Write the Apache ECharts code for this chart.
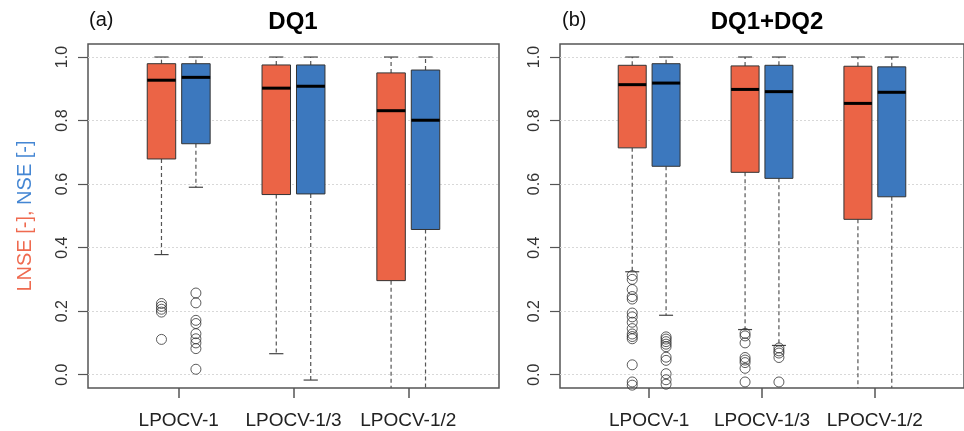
<!DOCTYPE html>
<html>
<head>
<meta charset="utf-8">
<script src="https://cdn.jsdelivr.net/npm/echarts@6/dist/echarts.min.js"></script>
<style>
  html, body { margin: 0; padding: 0; background: #fff; }
  #chart { width: 964px; height: 431px; }
</style>
</head>
<body>
<div id="chart"></div>
<script>
const groups = ['LPOCV-1', 'LPOCV-1/3', 'LPOCV-1/2']
const yTicks = [0, 0.2, 0.4, 0.6, 0.8, 1.0]

// each box: [lower whisker, q1, median, q3, upper whisker]
const dq1Lnse = [
  [0.378, 0.679, 0.927, 0.979, 1.0],
  [0.066, 0.567, 0.902, 0.975, 1.0],
  [-0.2, 0.296, 0.831, 0.950, 1.0]
]
const dq1Nse = [
  [0.590, 0.727, 0.936, 0.979, 1.0],
  [-0.017, 0.569, 0.908, 0.975, 1.0],
  [-0.2, 0.457, 0.801, 0.959, 1.0]
]
const dq12Lnse = [
  [0.324, 0.714, 0.913, 0.974, 1.0],
  [0.142, 0.637, 0.898, 0.972, 1.0],
  [-0.2, 0.489, 0.854, 0.971, 1.0]
]
const dq12Nse = [
  [0.187, 0.656, 0.918, 0.979, 1.0],
  [0.092, 0.618, 0.891, 0.974, 1.0],
  [-0.2, 0.560, 0.889, 0.969, 1.0]
]

// outliers per group
const dq1LnseOut = [[0.224, 0.215, 0.206, 0.197, 0.111], [], []]
const dq1NseOut = [[0.257, 0.226, 0.171, 0.161, 0.129, 0.113, 0.100, 0.082, 0.017], [], []]
const dq12LnseOut = [
  [0.312, 0.300, 0.268, 0.246, 0.238, 0.194, 0.182, 0.165, 0.145, 0.128, 0.120, 0.113, 0.031, -0.023, -0.033],
  [0.130, 0.122, 0.100, 0.054, 0.046, 0.038, 0.020, -0.023],
  []
]
const dq12NseOut = [
  [0.119, 0.112, 0.104, 0.096, 0.088, 0.055, 0.045, 0.003, -0.016, -0.030],
  [0.084, 0.075, 0.068, 0.054, -0.023],
  []
]

const RED = '#EB6446'
const BLUE = '#3C78BE'
const OFFSET = 0.15
const HALF = 0.124
const FONT = 'Liberation Sans, Arial, Helvetica, sans-serif'

function boxData(stats, offset) {
  return stats.map((s, i) => [i + 1 + offset].concat(s))
}

function outData(list, offset) {
  const out = []
  list.forEach((vals, i) => {
    vals.forEach(v => out.push([i + 1 + offset, v]))
  })
  return out
}

function renderBox(params, api) {
  const x = api.value(0)
  const lo = api.coord([x, api.value(1)])
  const q1 = api.coord([x, api.value(2)])
  const md = api.coord([x, api.value(3)])
  const q3 = api.coord([x, api.value(4)])
  const hi = api.coord([x, api.value(5)])
  const hw = api.size([HALF, 0])[0]
  const cw = hw / 2
  const cx = md[0]
  const dash = { stroke: '#555', lineWidth: 1.2, lineDash: [4, 3] }
  const cap = { stroke: '#444', lineWidth: 1.2 }
  return {
    type: 'group',
    children: [
      { type: 'line', shape: { x1: cx, y1: q1[1], x2: cx, y2: lo[1] }, style: dash },
      { type: 'line', shape: { x1: cx, y1: q3[1], x2: cx, y2: hi[1] }, style: dash },
      { type: 'line', shape: { x1: cx - cw, y1: lo[1], x2: cx + cw, y2: lo[1] }, style: cap },
      { type: 'line', shape: { x1: cx - cw, y1: hi[1], x2: cx + cw, y2: hi[1] }, style: cap },
      {
        type: 'rect',
        shape: { x: cx - hw, y: q3[1], width: hw * 2, height: q1[1] - q3[1] },
        style: { fill: api.visual('color'), stroke: '#333', lineWidth: 1 }
      },
      { type: 'line', shape: { x1: cx - hw, y1: md[1], x2: cx + hw, y2: md[1] }, style: { stroke: '#000', lineWidth: 3 } }
    ]
  }
}

function xAxis(idx) {
  return {
    type: 'value',
    gridIndex: idx,
    min: 0.21,
    max: 3.79,
    axisLine: { show: false, onZero: false },
    splitLine: { show: false },
    axisTick: { customValues: [1, 2, 3], length: 10, lineStyle: { color: '#555', width: 1.5 } },
    axisLabel: {
      customValues: [1, 2, 3],
      formatter: v => groups[Math.round(v) - 1],
      fontSize: 19,
      color: '#222',
      fontFamily: FONT,
      margin: 23
    }
  }
}

function yAxis(idx) {
  const ax = {
    type: 'value',
    gridIndex: idx,
    min: -0.042,
    max: 1.041,
    axisLine: { show: false, onZero: false },
    axisTick: { customValues: yTicks, length: 10, lineStyle: { color: '#555', width: 1.2 } },
    axisLabel: {
      customValues: yTicks,
      formatter: v => v.toFixed(1),
      rotate: 90,
      fontSize: 16,
      color: '#333',
      fontFamily: FONT,
      margin: 17
    },
    splitLine: { show: true, lineStyle: { color: '#d8d8d8', type: [2, 2], width: 1 } }
  }
  if (idx === 0) {
    ax.name = '{r|LNSE [-], }{b|NSE [-]}'
    ax.nameLocation = 'middle'
    ax.nameRotate = 90
    ax.nameGap = 53
    ax.nameTextStyle = {
      fontFamily: FONT,
      fontSize: 20,
      rich: {
        r: { color: '#EF6A4F', fontSize: 20, fontFamily: FONT },
        b: { color: '#4486D3', fontSize: 20, fontFamily: FONT }
      }
    }
  }
  return ax
}

function boxSeries(idx, stats, color, offset) {
  return {
    type: 'custom',
    xAxisIndex: idx,
    yAxisIndex: idx,
    clip: true,
    itemStyle: { color: color },
    encode: { x: 0, y: [1, 2, 3, 4, 5] },
    data: boxData(stats, offset),
    renderItem: renderBox
  }
}

function outSeries(idx, list, offset) {
  return {
    type: 'scatter',
    xAxisIndex: idx,
    yAxisIndex: idx,
    symbol: 'circle',
    symbolSize: 10,
    itemStyle: { color: 'rgba(0,0,0,0)', borderColor: '#333', borderWidth: 1 },
    data: outData(list, offset)
  }
}

const chart = echarts.init(document.getElementById('chart'))
chart.setOption({
  animation: false,
  backgroundColor: '#fff',
  grid: [
    { left: 88, right: 465, top: 44, bottom: 43, show: true, borderColor: '#555', borderWidth: 1.5 },
    { left: 560, right: -8, top: 44, bottom: 43, show: true, borderColor: '#555', borderWidth: 1.5 }
  ],
  xAxis: [xAxis(0), xAxis(1)],
  yAxis: [yAxis(0), yAxis(1)],
  graphic: [
    { type: 'text', left: 89, top: 10, style: { text: '(a)', fontSize: 20, fill: '#111', fontFamily: FONT } },
    { type: 'text', x: 293, y: 22, style: { text: 'DQ1', fontSize: 24, fontWeight: 'bold', fill: '#000', fontFamily: FONT, textAlign: 'center', textVerticalAlign: 'middle' } },
    { type: 'text', left: 562, top: 10, style: { text: '(b)', fontSize: 20, fill: '#111', fontFamily: FONT } },
    { type: 'text', x: 767, y: 22, style: { text: 'DQ1+DQ2', fontSize: 24, fontWeight: 'bold', fill: '#000', fontFamily: FONT, textAlign: 'center', textVerticalAlign: 'middle' } }
  ],
  series: [
    boxSeries(0, dq1Lnse, RED, -OFFSET),
    boxSeries(0, dq1Nse, BLUE, OFFSET),
    outSeries(0, dq1LnseOut, -OFFSET),
    outSeries(0, dq1NseOut, OFFSET),
    boxSeries(1, dq12Lnse, RED, -OFFSET),
    boxSeries(1, dq12Nse, BLUE, OFFSET),
    outSeries(1, dq12LnseOut, -OFFSET),
    outSeries(1, dq12NseOut, OFFSET)
  ]
})
</script>
</body>
</html>
